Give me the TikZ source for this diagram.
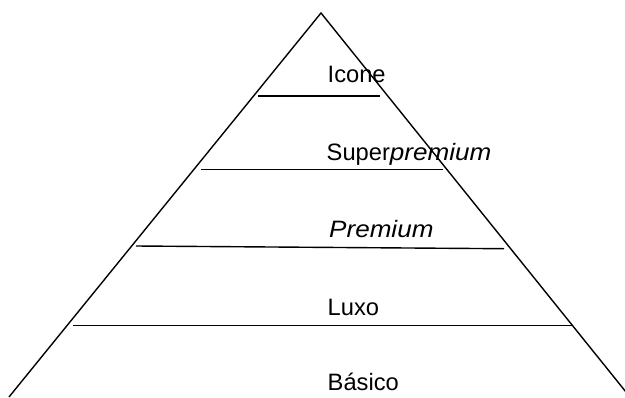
\documentclass[tikz,border=0pt]{standalone}
\usepackage{fontspec}
\setmainfont{Liberation Sans}
\newfontfamily\itwide{Liberation Sans}[FakeStretch=1.1]
\newcommand{\wideit}[1]{{\itwide\itshape #1}}
\begin{document}
\begin{tikzpicture}[x=1pt,y=-1pt,
  edge/.style={line width=1.4pt,black},
  lbl/.style={anchor=base west,inner sep=0pt,font=\fontsize{23.7}{28}\selectfont}]
\useasboundingbox (0,0) rectangle (625,397);
\clip (0,0) rectangle (625,397);
\coordinate (apex) at (321,13);
\coordinate (bl) at (9,397);
\coordinate (br) at (630,397);
\draw[edge] (bl) -- (apex) -- (br);
\coordinate (a1) at (258,96);   \coordinate (b1) at (380,96);
\coordinate (a2) at (201,169.3); \coordinate (b2) at (443,169.3);
\coordinate (a3) at (136,246);  \coordinate (b3) at (504,248.7);
\coordinate (a4) at (72.7,325.7); \coordinate (b4) at (573,325.7);
\draw[edge] (a1) -- (b1);
\draw[edge] (a2) -- (b2);
\draw[edge] (a3) -- (b3);
\draw[edge] (a4) -- (b4);
\node[lbl] (icone) at (327.5,82.5) {Icone};
\node[lbl] (super) at (326.5,160) {Super\wideit{premium}};
\node[lbl] (prem) at (329,237) {\wideit{Premium}};
\node[lbl] (luxo) at (327.5,315.5) {Luxo};
\node[lbl] (basico) at (327.5,390.7) {Básico};
\end{tikzpicture}
\end{document}
